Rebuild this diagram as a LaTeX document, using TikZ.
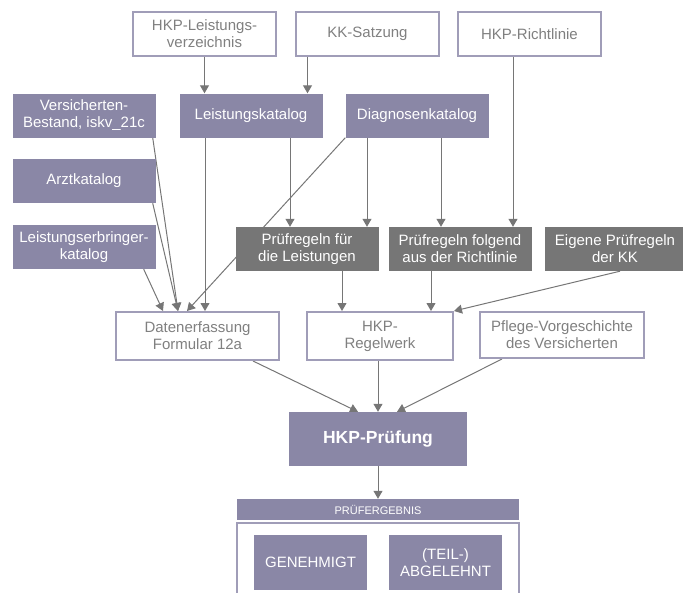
\documentclass[tikz,border=0pt]{standalone}
\usepackage{fontspec}
\setmainfont{Liberation Sans}
\usetikzlibrary{arrows.meta,backgrounds}
\definecolor{katlila}{HTML}{8A87A6}
\definecolor{regelgrau}{HTML}{767676}
\definecolor{randlila}{HTML}{A09DB8}
\definecolor{textgrau}{HTML}{808080}
\definecolor{pfeilgrau}{HTML}{767676}
\tikzset{
  box/.style={minimum width=143pt,minimum height=44pt,inner sep=0pt,align=center,font=\fontsize{15}{17}\selectfont},
  outbox/.style={box,draw=randlila,line width=2pt,fill=white,text=textgrau},
  katbox/.style={box,fill=katlila,text=white},
  regelbox/.style={box,fill=regelgrau,text=white},
  arr/.style={draw=pfeilgrau,line width=1pt,-{Triangle[length=8pt,width=9pt]}}
}
\begin{document}
\begin{tikzpicture}[x=1pt,y=-1pt]
\useasboundingbox (0,0) rectangle (683,592);
\node[outbox] (verz) at (204.5,34) {HKP-Leistungs-\\verzeichnis};
\node[outbox] (satz) at (367.5,34) {KK-Satzung};
\node[outbox] (richt) at (529.5,34) {HKP-Richtlinie};
\node[katbox] (vers) at (84,115.5) {Versicherten-\\Bestand, iskv\_21c};
\node[katbox] (leistkat) at (251,115.5) {Leistungskatalog};
\node[katbox] (diagkat) at (417,115.5) {Diagnosenkatalog};
\node[katbox] (arzt) at (84,181) {Arztkatalog};
\node[katbox] (lekat) at (84,247) {Leistungserbringer-\\katalog};
\node[regelbox] (prleist) at (307,249) {Prüfregeln für\\die Leistungen};
\node[regelbox] (prricht) at (460,249) {Prüfregeln folgend\\aus der Richtlinie};
\node[regelbox,minimum width=140pt] (preigen) at (615,249) {Eigene Prüfregeln\\der KK};
\node[outbox,minimum width=163pt,minimum height=48pt] (daten) at (197.5,336) {Datenerfassung\\Formular 12a};
\node[outbox,minimum width=146pt,minimum height=48pt] (regelwerk) at (380,336) {HKP-\\Regelwerk};
\node[outbox,minimum width=164pt,minimum height=46pt] (pflege) at (562,335) {Pflege-Vorgeschichte\\des Versicherten};
\node[katbox,minimum width=178pt,minimum height=54pt,font=\fontsize{17.5}{20}\selectfont\bfseries] (pruefung) at (378,439) {HKP-Prüfung};
\node[katbox,minimum width=282pt,minimum height=21pt,font=\fontsize{11}{13}\selectfont] (ergebnis) at (378,509.5) {PRÜFERGEBNIS};
\node[box,draw=randlila,line width=2pt,minimum width=282pt,minimum height=80pt] (ergrahmen) at (378,563) {};
\node[katbox,minimum width=113pt,minimum height=55pt] (genehmigt) at (310.5,562.5) {GENEHMIGT};
\node[katbox,minimum width=113pt,minimum height=55pt] (abgelehnt) at (445.5,562.5) {(TEIL-)\\ABGELEHNT};
\begin{scope}[on background layer]
\draw[arr] (verz.south) -- (verz.south |- leistkat.north);
\draw[arr] ([xshift=-60pt]satz.south) -- ([xshift=-60pt]satz.south |- leistkat.north);
\draw[arr] ([xshift=-16.5pt]richt.south) -- ([xshift=-16.5pt]richt.south |- prricht.north);
\draw[arr] ([xshift=39pt]leistkat.south) -- ([xshift=39pt]leistkat.south |- prleist.north);
\draw[arr] ([xshift=-46pt]leistkat.south) -- ([xshift=-46pt]leistkat.south |- daten.north);
\draw[arr] ([xshift=-50pt]diagkat.south) -- ([xshift=-50pt]diagkat.south |- prleist.north);
\draw[arr] ([xshift=24pt]diagkat.south) -- ([xshift=24pt]diagkat.south |- prricht.north);
\draw[arr] (diagkat.south west) -- ([xshift=-10.5pt]daten.north);
\draw[arr] ([xshift=-3pt]vers.south east) -- ([xshift=-19.5pt]daten.north);
\draw[arr] ([xshift=-3pt]arzt.south east) -- ([xshift=-19.5pt]daten.north);
\draw[arr] ([xshift=-12pt]lekat.south east) -- ([xshift=-34.5pt]daten.north);
\draw[arr] ([xshift=35pt]prleist.south) -- ([xshift=35pt]prleist.south |- regelwerk.north);
\draw[arr] ([xshift=-29pt]prricht.south) -- ([xshift=-29pt]prricht.south |- regelwerk.north);
\draw[arr] ([xshift=5pt]preigen.south) -- (regelwerk.north east);
\draw[arr] ([xshift=55.5pt]daten.south) -- ([xshift=-20pt]pruefung.north);
\draw[arr] (regelwerk.south -| pruefung.north) -- (pruefung.north);
\draw[arr] ([xshift=-60pt]pflege.south) -- ([xshift=19pt]pruefung.north);
\draw[arr] (pruefung.south) -- (ergebnis.north);
\end{scope}
\end{tikzpicture}
\end{document}
